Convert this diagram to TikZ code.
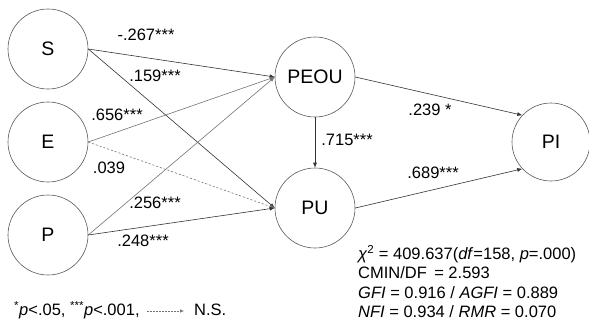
\documentclass[tikz,border=0pt]{standalone}
\usepackage{fontspec}
\setmainfont{Liberation Sans}
\usetikzlibrary{arrows.meta}
\begin{document}
\begin{tikzpicture}[x=1pt,y=-1pt,
  latent/.style={circle,draw=black!65,line width=0.6pt,minimum size=80pt,inner sep=0pt,font=\fontsize{19.5}{22}\selectfont},
  path/.style={draw=black!80,line width=0.6pt,-{Latex[length=5pt,width=4pt]}},
  lightpath/.style={path,draw=black!55},
  nspath/.style={path,draw=black!55,dash pattern=on 2pt off 2pt},
  coef/.style={inner sep=0pt,font=\fontsize{16.5}{19}\selectfont},
  stat/.style={inner sep=0pt,anchor=west,font=\fontsize{16.5}{19}\selectfont}]
\useasboundingbox (0,0) rectangle (589,322);
\node[latent] (S) at (48,49) {S};
\node[latent] (E) at (48,142) {E};
\node[latent] (P) at (48,235) {P};
\node[latent] (PEOU) at (315,77) {PEOU};
\node[latent] (PU) at (315,208) {PU};
\node[latent,minimum size=78pt] (PI) at (551,142) {PI};

\draw[path] (S.east) -- (PEOU.west);
\draw[path] (S.east) -- (PU.west);
\draw[lightpath] (E.east) -- (PEOU.west);
\draw[nspath] (E.east) -- (PU.west);
\draw[lightpath] (P.east) -- (PEOU.west);
\draw[path] (P.east) -- (PU.west);
\draw[path] (PEOU.south) -- (PU.north);
\draw[path] (PEOU.east) -- (PI.137);
\draw[path] (PU.east) -- (PI.223);

\node[coef] (l1) at (146,35) {-.267***};
\node[coef] (l2) at (155,76) {.159***};
\node[coef] (l3) at (117,115) {.656***};
\node[coef] (l4) at (109,168) {.039};
\node[coef] (l5) at (155,203) {.256***};
\node[coef] (l6) at (143,241) {.248***};
\node[coef] (l7) at (430,110) {.239 *};
\node[coef] (l8) at (347,140) {.715***};
\node[coef] (l9) at (433,173) {.689***};

\node[stat] (s1) at (358,254) {\textit{χ}\textsuperscript{2} = 409.637(\textit{df}=158, \textit{p}=.000)};
\node[stat] (s2) at (358,273) {CMIN/DF\, = 2.593};
\node[stat] (s3) at (358,293) {\textit{GFI} = 0.916 / \textit{AGFI} = 0.889};
\node[stat] (s4) at (358,312) {\textit{NFI} = 0.934 / \textit{RMR} = 0.070};

\node[stat] (leg) at (14,310) {\textsuperscript{*}\textit{p}<.05, \textsuperscript{***}\textit{p}<.001,};
\coordinate (la) at (147,311);
\coordinate (lb) at (184,311);
\draw[nspath,dash pattern=on 1.5pt off 1.5pt,-{Latex[length=4pt,width=3.5pt]}] (la) -- (lb);
\node[stat] (ns) at (194,310) {N.S.};
\end{tikzpicture}
\end{document}
